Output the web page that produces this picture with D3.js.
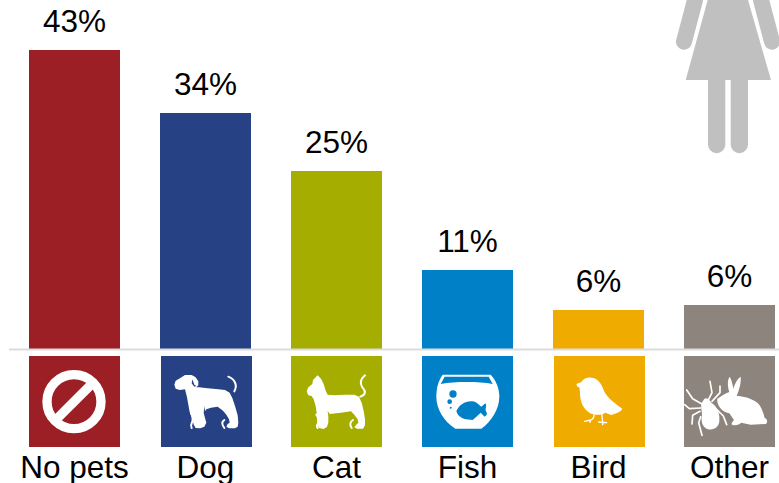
<!DOCTYPE html>
<html><head><meta charset="utf-8">
<script src="https://cdn.jsdelivr.net/npm/d3@7/dist/d3.min.js"></script>
<style>html,body{margin:0;padding:0;background:#fff}svg{display:block}text{font-family:"Liberation Sans",Arial,sans-serif;fill:#000}</style>
</head><body><svg id="c" width="779" height="483"></svg>
<script>
const categories = ["No pets","Dog","Cat","Fish","Bird","Other"];
const values = [43, 34, 25.6, 11.4, 5.6, 6.3];
const valueLabels = ["43%","34%","25%","11%","6%","6%"];
const colors = ["#9b1f24","#264284","#a5ad00","#0080c6","#f0ab00","#8e847e"];

const W=779,H=483,base=349;
const svg=d3.select("#c");
const x=d3.scaleBand().domain(categories).range([29,775]).paddingInner(40/131).paddingOuter(0);
const y=d3.scaleLinear().domain([0,43]).range([base,50]);
const barTop=v=>Math.round(y(v));
const iconTop=356, iconNudge=[0,1,0,0,1,0];

// woman pictogram, clipped by the top of the page
const w=svg.append("g").attr("fill","#c0c0c0");
w.append("path").attr("d","M707.7,0L748,0L771,80L685.7,80Z");
w.append("path").attr("d","M708,78H725.3V144.5a8.65,8.65 0 0 1 -17.3,0Z");
w.append("path").attr("d","M730.7,78H748V144.5a8.65,8.65 0 0 1 -17.3,0Z");
w.append("path").attr("d","M684,41.7L695,0").attr("stroke","#c0c0c0").attr("stroke-width",16).attr("stroke-linecap","round").attr("fill","none");
w.append("path").attr("d","M772,41.7L761,0").attr("stroke","#c0c0c0").attr("stroke-width",16).attr("stroke-linecap","round").attr("fill","none");

svg.selectAll("rect.bar").data(categories).join("rect").attr("class","bar")
  .attr("x",d=>x(d)).attr("width",x.bandwidth())
  .attr("y",(d,i)=>barTop(values[i])).attr("height",(d,i)=>base-barTop(values[i]))
  .attr("fill",(d,i)=>colors[i]);

svg.append("line").attr("x1",9).attr("x2",W).attr("y1",349.5).attr("y2",349.5).attr("stroke","#dcdcdc").attr("stroke-width",2);

svg.selectAll("text.val").data(categories).join("text").attr("class","val")
  .attr("x",d=>x(d)+x.bandwidth()/2).attr("y",(d,i)=>barTop(values[i])-18)
  .attr("text-anchor","middle").attr("font-size",31.5).text((d,i)=>valueLabels[i]);

svg.selectAll("text.cat").data(categories).join("text").attr("class","cat")
  .attr("x",d=>x(d)+x.bandwidth()/2).attr("y",477.5)
  .attr("text-anchor","middle").attr("font-size",31.5).text(d=>d);

// icon drawings, in a 273-unit box
const draw={
 "No pets":g=>{
  g.append("circle").attr("cx",135).attr("cy",137).attr("r",81).attr("fill","none").attr("stroke","#fff").attr("stroke-width",28);
  g.append("path").attr("d","M80,192L190,82").attr("stroke","#fff").attr("stroke-width",28);
 },
 "Dog":g=>{
  g.append("path").attr("fill","#fff").attr("d","M40,86L44,74L58,66L72,57L92,57L104,64L112,76L112,88L106,94L114,94L140,97L172,100L192,102L206,110L214,126L222,150L230,178L232,200L230,212L222,217L204,217L196,212L200,204L206,200L204,190L196,176L186,164L170,152L150,155L136,160L132,166L130,150L128,170L132,186L136,200L130,212L118,217L104,216L98,206L94,188L86,168L82,146L78,124L72,100L56,102L44,98Z");
  g.append("path").attr("fill","none").attr("stroke","#fff").attr("stroke-width",6).attr("stroke-linecap","round").attr("d","M202,62C222,70 230,88 220,106M90,172C98,186 96,194 92,202C88,208 90,212 92,216M190,192C180,198 184,208 190,216");
  g.append("path").attr("fill","#264284").attr("d","M94,70L100,86L106,90L100,92L92,82Z");
 },
 "Cat":g=>{
  g.append("path").attr("fill","#fff").attr("d","M47,106L52,94L64,84L66,72L80,58L90,68L98,84L104,104L110,116L130,118L160,116L190,116L204,122L212,140L218,165L222,190L222,208L216,218L198,218L190,214L196,206L202,200L200,190L190,176L180,166L150,170L116,174L110,164L112,182L112,200L108,212L98,219L84,216L78,204L78,180L74,150L68,130L62,120L52,118Z");
  g.append("path").attr("fill","none").attr("stroke","#fff").attr("stroke-width",6).attr("stroke-linecap","round").attr("d","M222,58C208,70 206,82 214,94C226,106 224,116 208,122M76,176C84,188 84,196 80,204C76,210 78,214 80,216M186,192C176,198 176,208 182,216");
 },
 "Fish":g=>{
  g.append("path").attr("fill","#fff").attr("d","M62,56L206,56C222,72 232,98 232,122C232,160 206,198 178,218L100,218C66,196 43,160 43,122C43,98 48,76 62,56Z");
  g.append("path").attr("fill","#0080c6").attr("d","M68,62L200,62L212,84C170,76 100,76 56,84Z");
  g.append("circle").attr("cx",93).attr("cy",114).attr("r",11).attr("fill","#0080c6");
  g.append("circle").attr("cx",83).attr("cy",137).attr("r",7).attr("fill","#0080c6");
  g.append("circle").attr("cx",86).attr("cy",155).attr("r",3).attr("fill","#0080c6");
  g.append("path").attr("fill","#0080c6").attr("d","M103,165C112,146 130,134 152,136C162,136 172,148 178,152L190,142C196,150 188,160 192,166C196,172 196,178 188,182L176,170C168,178 158,186 152,192L132,190C114,186 106,176 103,165Z");
 },
 "Bird":g=>{
  g.append("path").attr("fill","#fff").attr("d","M67,84L82,78C88,68 100,64 112,65C130,66 142,82 148,100C154,118 172,136 205,158C200,168 186,172 172,177L154,170C142,178 120,178 106,170C88,160 78,136 78,112C78,104 76,96 76,94L70,92Z");
  g.append("path").attr("fill","none").attr("stroke","#fff").attr("stroke-width",4).attr("stroke-linecap","round").attr("d","M120,176C120,186 116,190 110,192L92,196M110,192L108,199M143,172L146,198M134,198L158,200M146,198L146,206");
 },
 "Other":g=>{
  g.append("path").attr("fill","#fff").attr("d","M100,128C110,122 124,112 136,108C130,90 130,72 137,62C142,70 146,84 148,98C152,84 160,68 170,62C172,80 166,102 158,120C176,120 200,126 220,140C232,150 238,170 242,186C250,188 252,198 246,204L200,206L172,200C166,206 154,210 144,206C140,202 148,196 150,192L136,172C128,170 120,168 112,160C104,150 98,140 100,128Z");
  g.append("path").attr("fill","#fff").attr("d","M62,128C66,124 76,128 82,140C96,148 108,168 106,190C108,212 90,224 72,220C56,216 50,196 54,178C54,166 50,154 52,144C54,138 58,132 62,128Z");
  g.append("path").attr("fill","none").attr("stroke","#fff").attr("stroke-width",5).attr("stroke-linecap","round").attr("stroke-linejoin","round").attr("d","M58,146L26,128L8,102M50,156L16,158L2,146M48,166L26,178L24,204M50,182L44,200L54,238M74,130L84,110L78,76M84,136L108,110L108,90M98,160L118,180L128,206");
 }
};

categories.forEach((c,i)=>{
  const g=svg.append("g").attr("transform",`translate(${x(c)+iconNudge[i]},${iconTop})`);
  g.append("rect").attr("width",x.bandwidth()).attr("height",x.bandwidth()).attr("fill",colors[i]);
  const inner=g.append("g").attr("transform",`scale(${x.bandwidth()/273})`);
  draw[c](inner);
});
</script></body></html>
